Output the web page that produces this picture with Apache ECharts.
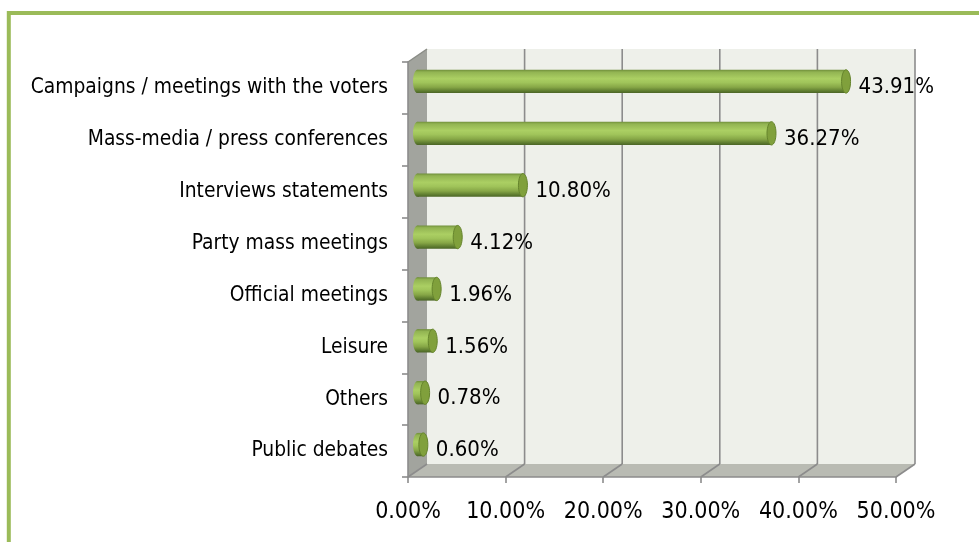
<!DOCTYPE html>
<html>
<head>
<meta charset="utf-8">
<script src="https://cdn.jsdelivr.net/npm/echarts@6/dist/echarts.min.js"></script>
<style>
  html, body { margin: 0; padding: 0; background: #ffffff; }
  #chart { width: 979px; height: 542px; }
</style>
</head>
<body>
<div id="chart"></div>
<script>
// Share of each activity type (percent)
const categories = [
  'Campaigns / meetings with the voters',
  'Mass-media / press conferences',
  'Interviews statements',
  'Party mass meetings',
  'Official meetings',
  'Leisure',
  'Others',
  'Public debates'
];
const shares = [43.91, 36.27, 10.80, 4.12, 1.96, 1.56, 0.78, 0.60];
const axisTicks = [0, 10, 20, 30, 40, 50];

// Pseudo-3D depth of the plot box (pixels)
const DX = 19, DY = -13;
const FONT = '"DejaVu Sans Condensed", "DejaVu Sans", sans-serif';
const GRID_COLOR = '#8c8c8c';

const chart = echarts.init(document.getElementById('chart'));

// Walls, floor and gridlines of the 3D box
function renderFrame(params, api) {
  const cs = params.coordSys;
  const x0 = cs.x, y0 = cs.y;
  const x1 = cs.x + cs.width, y1 = cs.y + cs.height;
  const children = [
    { type: 'polygon', shape: { points: [[x0, y0], [x0 + DX, y0 + DY], [x0 + DX, y1 + DY], [x0, y1]] },
      style: { fill: '#a2a49e' } },
    { type: 'rect', shape: { x: x0 + DX, y: y0 + DY, width: cs.width, height: cs.height },
      style: { fill: '#eef0ea' } },
    { type: 'polygon', shape: { points: [[x0, y1], [x0 + DX, y1 + DY], [x1 + DX, y1 + DY], [x1, y1]] },
      style: { fill: '#b9bbb3' } },
    { type: 'line', shape: { x1: x0, y1: y0, x2: x0 + DX, y2: y0 + DY },
      style: { stroke: '#8a8c86', lineWidth: 1.5 } }
  ];
  axisTicks.forEach(function (v) {
    const px = api.coord([v, 0])[0];
    if (v > 0) {
      children.push({ type: 'line', shape: { x1: px + DX, y1: y0 + DY, x2: px + DX, y2: y1 + DY },
        style: { stroke: GRID_COLOR, lineWidth: 1.6 } });
    }
    children.push({ type: 'line', shape: { x1: px, y1: y1, x2: px + DX, y2: y1 + DY },
      style: { stroke: GRID_COLOR, lineWidth: 1.6 } });
  });
  return { type: 'group', children: children };
}

// Horizontal cylinder with its value label
function renderBar(params, api) {
  const v = api.value(0), idx = api.value(1);
  const start = api.coord([0, idx]);
  const end = api.coord([v, idx]);
  const band = api.size([0, 1])[1];
  const h = band * 0.45;
  const cy = start[1] + DY / 2;
  const xs = start[0] + DX / 2;
  const xe = end[0] + DX / 2;
  const rx = 4.5;
  const body = new echarts.graphic.LinearGradient(0, 0, 0, 1, [
    { offset: 0, color: '#6f8e3a' },
    { offset: 0.1, color: '#92b452' },
    { offset: 0.38, color: '#abcf63' },
    { offset: 0.55, color: '#a0c45a' },
    { offset: 0.75, color: '#86a646' },
    { offset: 0.9, color: '#607e31' },
    { offset: 1, color: '#4a6425' }
  ]);
  return {
    type: 'group',
    children: [
      { type: 'ellipse', shape: { cx: xs, cy: cy, rx: rx, ry: h / 2 }, style: { fill: body } },
      { type: 'rect', shape: { x: xs, y: cy - h / 2, width: Math.max(xe - xs, 0), height: h }, style: { fill: body } },
      { type: 'ellipse', shape: { cx: xe, cy: cy, rx: rx, ry: h / 2 },
        style: { fill: '#80a03c', stroke: '#65842c', lineWidth: 1 } },
      { type: 'text', style: {
          text: v.toFixed(2) + '%', x: xe + rx + 8, y: cy + 6,
          verticalAlign: 'middle', align: 'left',
          fill: '#000000', fontSize: 22, fontFamily: FONT } }
    ]
  };
}

chart.setOption({
  animation: false,
  backgroundColor: '#ffffff',
  graphic: [{
    type: 'rect', silent: true, z: 10,
    shape: { x: 8.8, y: 13, width: 1100, height: 700 },
    style: { fill: null, stroke: '#9bbb59', lineWidth: 4 }
  }],
  grid: { left: 408, top: 62, width: 488, height: 415 },
  xAxis: {
    type: 'value', min: 0, max: 50, interval: 10, z: 3,
    axisLine: { show: true, lineStyle: { color: GRID_COLOR, width: 1.6 } },
    axisTick: { show: true, length: 6, lineStyle: { color: GRID_COLOR, width: 1.6 } },
    splitLine: { show: false },
    axisLabel: {
      margin: 24, color: '#000000', fontSize: 23, fontFamily: FONT,
      formatter: function (v) { return v.toFixed(2) + '%'; }
    }
  },
  yAxis: {
    type: 'category', data: categories, inverse: true, z: 3,
    axisLine: { show: true, lineStyle: { color: GRID_COLOR, width: 1.6 } },
    axisTick: { show: true, length: 6, lineStyle: { color: GRID_COLOR, width: 1.6 } },
    axisLabel: { margin: 20, color: '#000000', fontSize: 20.8, fontFamily: FONT, padding: [5, 0, 0, 0] }
  },
  series: [
    { type: 'custom', name: 'frame', z: 1, silent: true,
      renderItem: renderFrame, data: [[0, 0]], encode: { x: 0, y: 1 } },
    { type: 'custom', name: 'share', z: 4,
      renderItem: renderBar, data: shares.map(function (v, i) { return [v, i]; }),
      encode: { x: 0, y: 1 } }
  ]
});
</script>
</body>
</html>
